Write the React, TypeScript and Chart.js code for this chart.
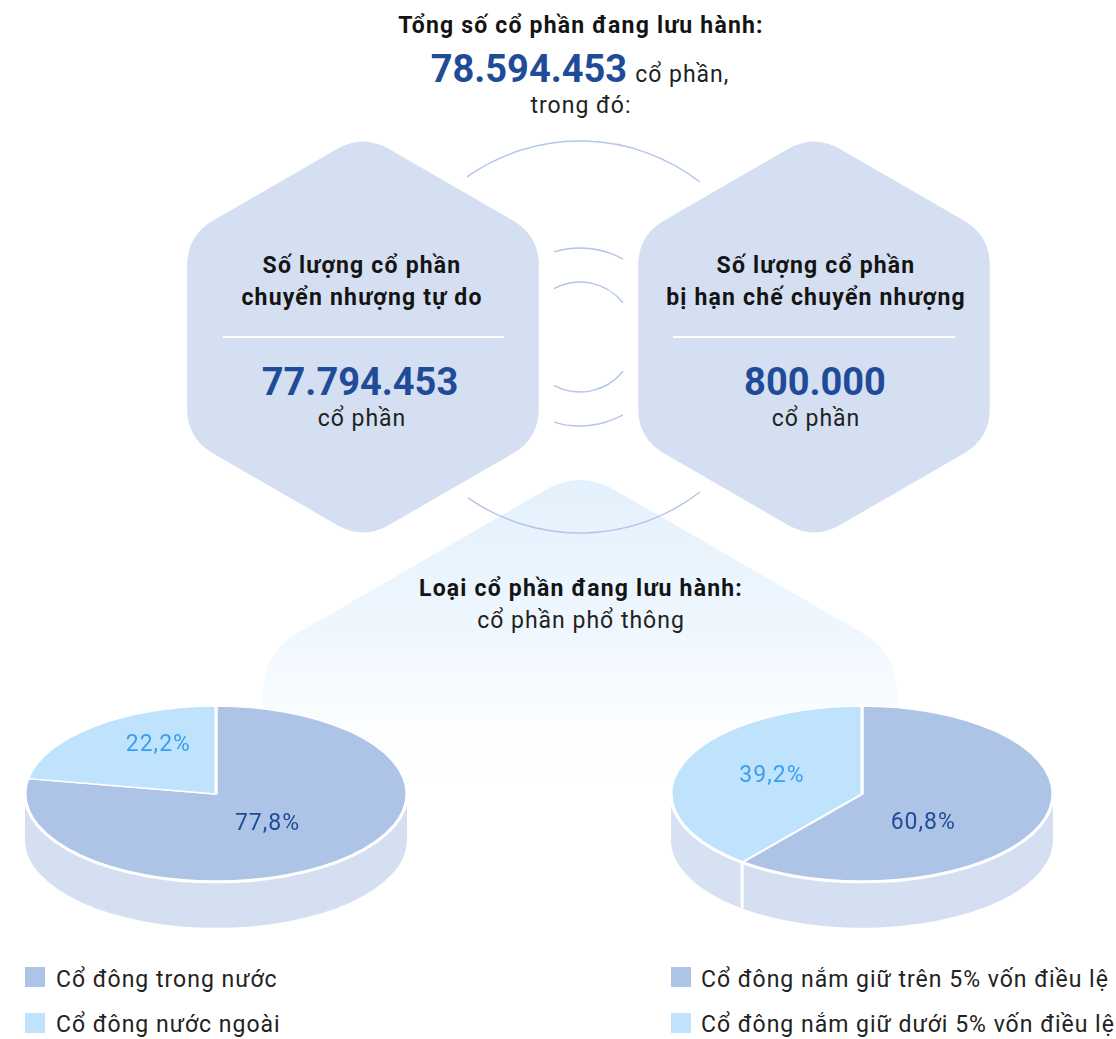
import React, { useEffect, useRef } from 'react';
import { Chart, registerables } from 'chart.js';

Chart.register(...registerables);

// ---- data ----
const leftLabels = ['Cổ đông trong nước', 'Cổ đông nước ngoài'];
const leftValues = [77.8, 22.2];
const rightLabels = ['Cổ đông nắm giữ trên 5% vốn điều lệ', 'Cổ đông nắm giữ dưới 5% vốn điều lệ'];
const rightValues = [60.8, 39.2];
const totalShares = '78.594.453';
const freeShares = '77.794.453';
const restrictedShares = '800.000';

// ---- styles ----
const topColors = ['#aec4e6', '#c0e3fd'];
const sideColors = ['#d4dff1', '#d6e1f2'];
const valueColors = ['#1f4b99', '#3a9ff0'];
const FONT = 'Roboto, "Noto Sans", sans-serif';

const pie3d = {
  id: 'pie3d',
  beforeDatasetsDraw(chart: any, _args: any, opts: any) {
    const ctx = chart.ctx;
    const meta = chart.getDatasetMeta(0);
    const k = opts.ratio;
    const depth = opts.depth;
    const TWO = Math.PI * 2;
    let cx = 0, cy = 0, R = 0;
    meta.data.forEach((arc: any, i: number) => {
      const p = arc.getProps(['x', 'y', 'startAngle', 'endAngle', 'outerRadius'], true);
      cx = p.x; cy = p.y; R = p.outerRadius;
      for (let n = -2; n <= 2; n++) {
        const lo = Math.max(p.startAngle, TWO * n);
        const hi = Math.min(p.endAngle, TWO * n + Math.PI);
        if (hi > lo) {
          ctx.save();
          ctx.beginPath();
          ctx.ellipse(p.x, p.y, R, R * k, 0, lo, hi);
          ctx.ellipse(p.x, p.y + depth, R, R * k, 0, hi, lo, true);
          ctx.closePath();
          ctx.fillStyle = sideColors[i % sideColors.length];
          ctx.fill();
          ctx.restore();
        }
      }
    });
    // white separators on the side wall
    meta.data.forEach((arc: any) => {
      const p = arc.getProps(['x', 'y', 'startAngle', 'outerRadius'], true);
      let a = p.startAngle % TWO;
      if (a < 0) a += TWO;
      if (a > 0.02 && a < Math.PI - 0.02) {
        const x = p.x + Math.cos(a) * p.outerRadius;
        const y = p.y + Math.sin(a) * p.outerRadius * k;
        ctx.save();
        ctx.strokeStyle = '#ffffff';
        ctx.lineWidth = 3;
        ctx.beginPath();
        ctx.moveTo(x, y);
        ctx.lineTo(x, y + depth);
        ctx.stroke();
        ctx.restore();
      }
    });
    ctx.save();
    ctx.translate(cx, cy);
    ctx.scale(1, k);
    ctx.translate(-cx, -cy);
  },
  afterDatasetsDraw(chart: any, _args: any, opts: any) {
    const ctx = chart.ctx;
    ctx.restore();
    const meta = chart.getDatasetMeta(0);
    const k = opts.ratio;
    const values = chart.data.datasets[0].data;
    // white rim
    const first = meta.data[0].getProps(['x', 'y', 'outerRadius'], true);
    ctx.save();
    ctx.strokeStyle = '#ffffff';
    ctx.lineWidth = 3;
    ctx.beginPath();
    ctx.ellipse(first.x, first.y, first.outerRadius, first.outerRadius * k, 0, 0, Math.PI);
    ctx.stroke();
    ctx.restore();
    meta.data.forEach((arc: any, i: number) => {
      const p = arc.getProps(['x', 'y', 'startAngle', 'endAngle', 'outerRadius'], true);
      const mid = (p.startAngle + p.endAngle) / 2;
      const f = opts.labelFrac[i];
      const x = p.x + Math.cos(mid) * p.outerRadius * f;
      const y = p.y + Math.sin(mid) * p.outerRadius * f * k + opts.labelDy[i];
      ctx.save();
      ctx.font = '400 23px ' + FONT;
      (ctx as any).letterSpacing = '1px';
      ctx.fillStyle = valueColors[i % valueColors.length];
      ctx.textAlign = 'center';
      ctx.textBaseline = 'middle';
      ctx.fillText(values[i].toFixed(1).replace('.', ',') + '%', x, y);
      ctx.restore();
    });
  },
};

function Pie3D({ labels, values, left, top, labelFrac, labelDy }: any) {
  const ref = useRef<HTMLCanvasElement>(null);
  useEffect(() => {
    const chart = new Chart(ref.current as HTMLCanvasElement, {
      type: 'pie',
      data: {
        labels,
        datasets: [
          {
            data: values,
            backgroundColor: topColors,
            borderColor: '#ffffff',
            borderWidth: 3,
            radius: 191,
            clip: false,
          } as any,
        ],
      },
      options: {
        animation: false,
        responsive: false,
        events: [],
        layout: { padding: { top: 0, bottom: 52, left: 0, right: 0 } },
        plugins: {
          legend: { display: false },
          tooltip: { enabled: false },
          pie3d: { ratio: 0.46, depth: 46, labelFrac, labelDy },
        } as any,
      },
      plugins: [pie3d as any],
    });
    return () => chart.destroy();
  }, []);
  return (
    <canvas
      ref={ref}
      width={432}
      height={260}
      style={{ position: 'absolute', left, top, width: 432, height: 260 }}
    />
  );
}

function roundedPath(pts: number[][], d: number, round: boolean[]) {
  let s = '';
  const n = pts.length;
  for (let i = 0; i < n; i++) {
    const V = pts[i];
    const P = pts[(i - 1 + n) % n];
    const N = pts[(i + 1) % n];
    const r = round[i] ? d : 0;
    const lp = Math.hypot(P[0] - V[0], P[1] - V[1]);
    const ln = Math.hypot(N[0] - V[0], N[1] - V[1]);
    const A = [V[0] + ((P[0] - V[0]) * r) / lp, V[1] + ((P[1] - V[1]) * r) / lp];
    const B = [V[0] + ((N[0] - V[0]) * r) / ln, V[1] + ((N[1] - V[1]) * r) / ln];
    s += (i === 0 ? 'M' : 'L') + A[0] + ' ' + A[1] + ' Q' + V[0] + ' ' + V[1] + ' ' + B[0] + ' ' + B[1] + ' ';
  }
  return s + 'Z';
}

function hexPts(cx: number, cy: number, R: number) {
  const pts: number[][] = [];
  for (let i = 0; i < 6; i++) {
    const a = ((-90 + 60 * i) * Math.PI) / 180;
    pts.push([cx + R * Math.cos(a), cy + R * Math.sin(a)]);
  }
  return pts;
}

function arcPath(cx: number, cy: number, r: number, x1: number, x2: number, top: boolean) {
  const y1 = cy + (top ? -1 : 1) * Math.sqrt(r * r - (x1 - cx) * (x1 - cx));
  const y2 = cy + (top ? -1 : 1) * Math.sqrt(r * r - (x2 - cx) * (x2 - cx));
  return `M${x1} ${y1} A${r} ${r} 0 0 ${top ? 1 : 0} ${x2} ${y2}`;
}

export default function App() {
  const acx = 580;
  const acy = 337;
  const hexL = roundedPath(hexPts(363, 337, 203), 30, [true, true, true, true, true, true]);
  const hexR = roundedPath(hexPts(814, 337, 203), 30, [true, true, true, true, true, true]);
  const gp = hexPts(580, 836, 366);
  const grad = roundedPath(
    [gp[0], gp[1], [gp[1][0], 780], [gp[5][0], 780], gp[5]],
    40,
    [true, true, false, false, true]
  );
  const arcColor = '#b4c5ea';
  const txt = '#141414';
  const B = { fontSize: 23, fontWeight: 700, letterSpacing: 1.2, fill: txt } as any;
  const Rg = { fontSize: 23, letterSpacing: 1, fill: '#222' } as any;
  const N = { fontSize: 38, fontWeight: 700, fill: '#1f4b99' } as any;
  return (
    <div
      style={{
        position: 'absolute',
        left: 0,
        top: 0,
        width: 1116,
        height: 1039,
        overflow: 'hidden',
        background: '#ffffff',
      }}
    >
      <svg width={1116} height={1039} style={{ position: 'absolute', left: 0, top: 0 }}>
        <defs>
          <linearGradient id="gfade" x1="0" y1="0" x2="0" y2="1">
            <stop offset="0" stopColor="#e3f1fc" />
            <stop offset="0.5" stopColor="#eff7fe" />
            <stop offset="0.8" stopColor="#fbfdff" />
            <stop offset="1" stopColor="#ffffff" />
          </linearGradient>
        </defs>
        <path d={grad} fill="url(#gfade)" />
        <g fill="none" stroke={arcColor} strokeWidth={1.4}>
          <path d={arcPath(acx, acy, 196, 467, 700, true)} />
          <path d={arcPath(acx, acy, 196, 468, 700, false)} />
          <path d={arcPath(acx, acy, 89, 554, 623, true)} />
          <path d={arcPath(acx, acy, 55, 554, 623, true)} />
          <path d={arcPath(acx, acy, 55, 554, 623, false)} />
          <path d={arcPath(acx, acy, 89, 554, 623, false)} />
        </g>
        <path d={hexL} fill="#d4dff1" />
        <path d={hexR} fill="#d4dff1" />

        <g fontFamily={FONT} textAnchor="middle">
          <text x={581} y={33} {...B}>
            Tổng số cổ phần đang lưu hành:
          </text>
          <text x={580} y={82}>
            <tspan {...N}>{totalShares}</tspan>
            <tspan dx={8} {...Rg}>
              cổ phần,
            </tspan>
          </text>
          <text x={581} y={113} {...Rg}>
            trong đó:
          </text>

          <text x={362} y={273} {...B}>
            Số lượng cổ phần
          </text>
          <text x={362} y={305} {...B}>
            chuyển nhượng tự do
          </text>
          <text x={360} y={395} {...N}>
            {freeShares}
          </text>
          <text x={362} y={426} {...Rg}>
            cổ phần
          </text>

          <text x={816} y={273} {...B}>
            Số lượng cổ phần
          </text>
          <text x={816} y={305} {...B}>
            bị hạn chế chuyển nhượng
          </text>
          <text x={815} y={395} {...N}>
            {restrictedShares}
          </text>
          <text x={816} y={426} {...Rg}>
            cổ phần
          </text>

          <text x={581} y={596} {...B}>
            Loại cổ phần đang lưu hành:
          </text>
          <text x={581} y={628} {...Rg}>
            cổ phần phổ thông
          </text>
        </g>
        <line x1={223} y1={337} x2={504} y2={337} stroke="#ffffff" strokeWidth={2} />
        <line x1={673} y1={337} x2={955} y2={337} stroke="#ffffff" strokeWidth={2} />

        <g fontFamily={FONT} fontSize={23} letterSpacing={1} fill="#222">
          <rect x={25} y={967} width={20} height={20} fill={topColors[0]} />
          <text x={56} y={987}>{leftLabels[0]}</text>
          <rect x={25} y={1013} width={20} height={20} fill={topColors[1]} />
          <text x={56} y={1032}>{leftLabels[1]}</text>
          <rect x={671} y={967} width={20} height={20} fill={topColors[0]} />
          <text x={701} y={987}>{rightLabels[0]}</text>
          <rect x={671} y={1013} width={20} height={20} fill={topColors[1]} />
          <text x={701} y={1032}>{rightLabels[1]}</text>
        </g>
      </svg>
      <Pie3D
        labels={leftLabels}
        values={leftValues}
        left={0}
        top={690}
        labelFrac={[0.42, 0.47]}
        labelDy={[2, -17]}
      />
      <Pie3D
        labels={rightLabels}
        values={rightValues}
        left={646}
        top={690}
        labelFrac={[0.34, 0.5]}
        labelDy={[19, -3]}
      />
    </div>
  );
}
